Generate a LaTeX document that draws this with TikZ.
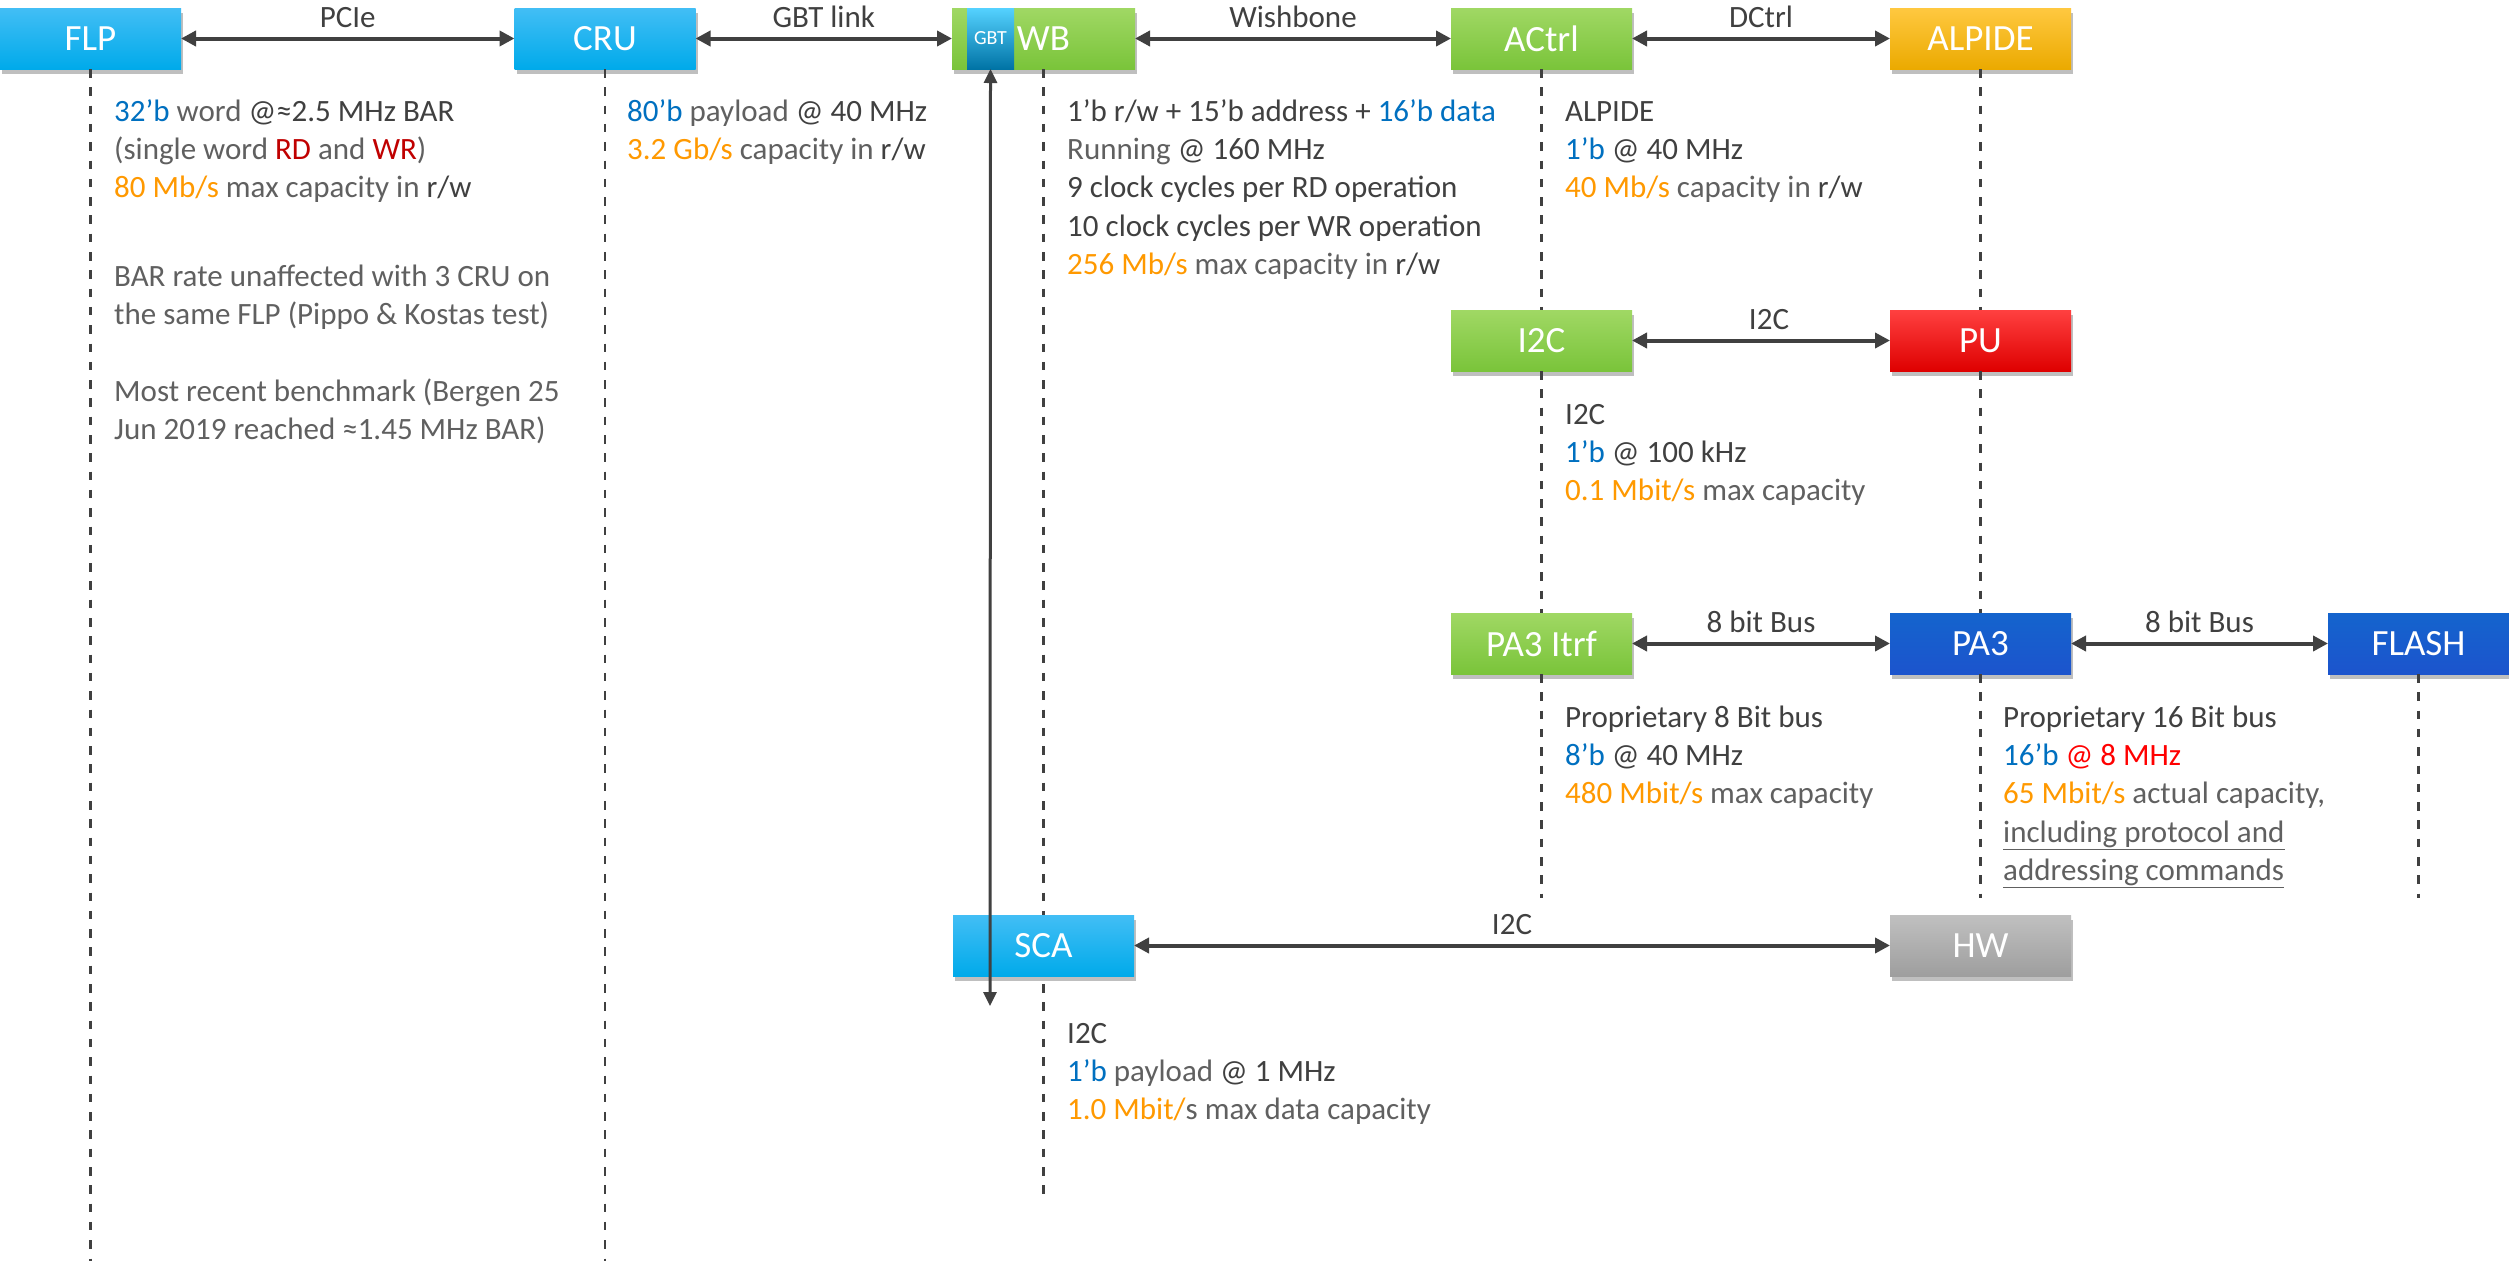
\documentclass[tikz,border=0pt]{standalone}
\usepackage{fontspec}
\setmainfont{Carlito}
\usetikzlibrary{arrows.meta,shadows}

% text colours
\definecolor{txtdark}{RGB}{64,64,64}
\definecolor{txtlight}{RGB}{96,96,96}
\definecolor{txtblue}{RGB}{0,112,192}
\definecolor{txtorange}{RGB}{255,153,0}
\definecolor{txtred}{RGB}{192,0,0}
\definecolor{txtbright}{RGB}{255,0,0}
\definecolor{linegray}{RGB}{64,64,64}
% box colours (top / bottom of the gradient)
\definecolor{cyanT}{RGB}{66,190,245}
\definecolor{cyanB}{RGB}{0,170,234}
\definecolor{greenT}{RGB}{160,216,100}
\definecolor{greenB}{RGB}{122,196,58}
\definecolor{goldT}{RGB}{255,200,64}
\definecolor{goldB}{RGB}{235,170,0}
\definecolor{redT}{RGB}{255,64,64}
\definecolor{redB}{RGB}{222,0,0}
\definecolor{blueT}{RGB}{20,100,205}
\definecolor{blueM}{RGB}{50,50,205}
\definecolor{blueB}{RGB}{28,84,205}
\definecolor{grayT}{RGB}{192,192,192}
\definecolor{grayB}{RGB}{158,158,158}
\definecolor{gbtT}{RGB}{85,210,255}
\definecolor{gbtB}{RGB}{0,115,165}

\newcommand\tblue[1]{\textcolor{txtblue}{#1}}
\newcommand\torange[1]{\textcolor{txtorange}{#1}}
\newcommand\tred[1]{\textcolor{txtred}{#1}}
\newcommand\tbright[1]{\textcolor{txtbright}{#1}}
\newcommand\tlight[1]{\textcolor{txtlight}{#1}}
\newcommand\bodyfont{\fontsize{31}{38.3}\selectfont}
\newcommand\boxfont{\fontsize{37}{44}\selectfont}

\tikzset{
  unit/.style={rectangle, inner sep=0pt, outer sep=0pt,
    minimum width=181pt, minimum height=61pt, text=white, font=\boxfont,
    drop shadow={shadow xshift=2pt, shadow yshift=-5pt, opacity=0.25, fill=black}},
  cyanbox/.style={unit, top color=cyanT, bottom color=cyanB},
  greenbox/.style={unit, top color=greenT, bottom color=greenB},
  goldbox/.style={unit, top color=goldT, bottom color=goldB},
  redbox/.style={unit, top color=redT, bottom color=redB},
  bluebox/.style={unit, top color=blueT, middle color=blueM, bottom color=blueB},
  graybox/.style={unit, top color=grayT, bottom color=grayB},
  link/.style={{Triangle[length=15pt,width=15pt]}-{Triangle[length=15pt,width=15pt]},
    line width=4pt, draw=linegray},
  vlink/.style={{Triangle[length=14pt,width=13pt]}-{Triangle[length=14pt,width=13pt]},
    line width=3pt, draw=linegray},
  lifeline/.style={draw=linegray, line width=2.6pt, dash pattern=on 8.5pt off 9.8pt},
  lab/.style={anchor=base, yshift=11pt, inner sep=0pt, font=\bodyfont, text=txtdark},
  body/.style={anchor=north west, inner sep=0pt, align=left, font=\bodyfont, text=txtdark},
}

\begin{document}
\begin{tikzpicture}[x=1pt, y=-1pt]
\useasboundingbox[fill=white] (0,0) rectangle (2509,1261);

% end points of the lifelines
\coordinate (pagebottom) at (0,1261);
\coordinate (midend) at (0,898);
\coordinate (wbend) at (0,1202);
\coordinate (scadown) at (990,1006);

% top row
\node[cyanbox] (flp) at (90.5,38.5) {FLP};
\node[cyanbox] (cru) at (605,38.5) {CRU};
\node[greenbox, minimum width=183pt] (wb) at (1043.5,38.5) {WB};
\node[rectangle, inner sep=0pt, outer sep=0pt, minimum width=47pt, minimum height=61pt,
      top color=gbtT, bottom color=gbtB, text=white, font=\fontsize{20}{24}\selectfont]
      (gbt) at (990.5,38.5) {GBT};
\node[greenbox] (actrl) at (1541.5,38.5) {ACtrl};
\node[goldbox] (alpide) at (1980.5,38.5) {ALPIDE};

% second and third rows
\node[greenbox] (i2c) at (1541.5,340.5) {I2C};
\node[redbox] (pu) at (1980.5,340.5) {PU};
\node[greenbox] (pa3itrf) at (1541.5,643.5) {PA3 Itrf};
\node[bluebox] (pa3) at (1980.5,643.5) {PA3};
\node[bluebox] (flash) at (2418.5,643.5) {FLASH};

% lifelines
\draw[lifeline] (flp.south) -- (flp.south |- pagebottom);
\draw[lifeline] (cru.south) -- (cru.south |- pagebottom);
\draw[lifeline] (wb.south) -- (wb.south |- wbend);
\draw[lifeline] (actrl.south) -- (i2c.north);
\draw[lifeline] (i2c.south) -- (pa3itrf.north);
\draw[lifeline] (pa3itrf.south) -- (pa3itrf.south |- midend);
\draw[lifeline] (alpide.south) -- (pu.north);
\draw[lifeline] (pu.south) -- (pa3.north);
\draw[lifeline] (pa3.south) -- (pa3.south |- midend);
\draw[lifeline] (flash.south) -- (flash.south |- midend);

% bottom row
\node[cyanbox] (sca) at (1043.5,945.5) {SCA};
\node[graybox] (hw) at (1980.5,945.5) {HW};

% connections
\draw[link] (flp.east) -- node[lab] {PCIe} (cru.west);
\draw[link] (cru.east) -- node[lab] {GBT link} (wb.west);
\draw[link] (wb.east) -- node[lab] {Wishbone} (actrl.west);
\draw[link] (actrl.east) -- node[lab] {DCtrl} (alpide.west);
\draw[link] (i2c.east) -- node[lab, xshift=8pt] {I2C} (pu.west);
\draw[link] (pa3itrf.east) -- node[lab] {8 bit Bus} (pa3.west);
\draw[link] (pa3.east) -- node[lab] {8 bit Bus} (flash.west);
\draw[link] (sca.east) -- node[lab] {I2C} (hw.west);
\draw[vlink] (gbt.south) -- (scadown);

% annotations
\node[body] (flptxt) at (114,94.2) {\strut\tblue{32’b} \tlight{word} @≈2.5 MHz BAR\\
  \tlight{(single word} \tred{RD} \tlight{and} \tred{WR}\tlight{)}\\
  \torange{80 Mb/s} \tlight{max capacity in} r/w};
\node[body, text=txtlight] (flpbar) at (114,259.2) {\strut BAR rate unaffected with 3 CRU on\\
  the same FLP (Pippo \& Kostas test)};
\node[body, text=txtlight] (flpbench) at (114,374.2) {\strut Most recent benchmark (Bergen 25\\
  Jun 2019 reached ≈1.45 MHz BAR)};
\node[body] (crutxt) at (627,94.2) {\strut\tblue{80’b} \tlight{payload} @ 40 MHz\\
  \torange{3.2 Gb/s} \tlight{capacity in} r/w};
\node[body] (wbtxt) at (1067,94.2) {\strut 1’b r/w + 15’b address + \tblue{16’b data}\\
  \tlight{Running} @ 160 MHz\\
  9 clock cycles per RD operation\\
  10 clock cycles per WR operation\\
  \torange{256 Mb/s} \tlight{max capacity in} r/w};
\node[body] (actrltxt) at (1565,94.2) {\strut ALPIDE\\
  \tblue{1’b} @ 40 MHz\\
  \torange{40 Mb/s} \tlight{capacity in} r/w};
\node[body] (i2ctxt) at (1565,397.2) {\strut I2C\\
  \tblue{1’b} @ 100 kHz\\
  \torange{0.1 Mbit/s} \tlight{max capacity}};
\node[body] (pa3itrftxt) at (1565,700.2) {\strut Proprietary 8 Bit bus\\
  \tblue{8’b} @ 40 MHz\\
  \torange{480 Mbit/s} \tlight{max capacity}};
\node[body] (pa3txt) at (2003,700.2) {\strut Proprietary 16 Bit bus\\
  \tblue{16’b} \tbright{@ 8 MHz}\\
  \torange{65 Mbit/s} \tlight{actual capacity,}\\
  \tlight{\underline{including protocol and}}\\
  \tlight{\underline{addressing commands}}};
\node[body] (scatxt) at (1067,1016.2) {\strut I2C\\
  \tblue{1’b} \tlight{payload} @ 1 MHz\\
  \torange{1.0 Mbit/}\tlight{s max data capacity}};
\end{tikzpicture}
\end{document}
